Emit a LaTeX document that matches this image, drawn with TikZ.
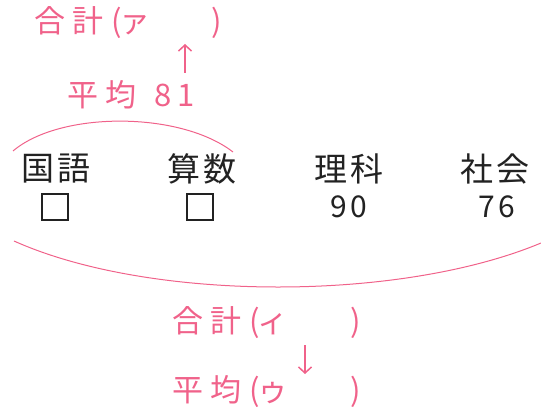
\documentclass[tikz,border=0pt]{standalone}
\usepackage{fontspec}
\newfontfamily\jpp{Noto Sans CJK JP}[LetterSpace=25]
\newfontfamily\jpb{Noto Sans CJK JP}[LetterSpace=8]
\newfontfamily\jpn{Noto Sans CJK JP}[LetterSpace=10]
\usetikzlibrary{arrows.meta}
\definecolor{pk}{HTML}{F0628A}
\definecolor{ink}{HTML}{222222}
\begin{document}
\begin{tikzpicture}[x=1pt,y=-1pt,
 pt/.style={text=pk, font=\jpp\fontsize{31}{34}\selectfont, inner sep=0pt, anchor=west},
 bk/.style={text=ink, font=\jpb\fontsize{33}{36}\selectfont, inner sep=0pt},
 num/.style={text=ink, font=\jpn\fontsize{30}{32}\selectfont, inner sep=0pt},
 brace/.style={draw=pk, line width=1pt},
 arr/.style={draw=pk, line width=1.5pt, -{Straight Barb[length=6pt,width=13pt]}},
 blank/.style={draw=ink, line width=1.5pt, minimum size=26pt, inner sep=0pt}]
\useasboundingbox (0,0) rectangle (541,414);
% top
\node[pt] (sumA) at (34,23) {合計(\hspace{-3pt}ァ};
\node[pt] (sumAr) at (211,23) {)};
\node[pt] (avg) at (67,95) {平均\hspace{18pt}8\hspace{5pt}1};
\coordinate (upS) at (185,73);
\coordinate (upE) at (185,44);
\draw[arr] (upS) -- (upE);
% subjects
\node[bk] (kokugo) at (56,169) {国語};
\node[bk] (sansu) at (202,169) {算数};
\node[bk] (rika) at (349,169) {理科};
\node[bk] (shakai) at (495,169) {社会};
\node[blank] (b1) at (55,207) {};
\node[blank] (b2) at (200,207) {};
\node[num] (n90) at (349,207) {90};
\node[num] (n76) at (497,207) {76};
% braces
\coordinate (tl) at (13,151);
\coordinate (tr) at (233,152);
\draw[brace] (tl) .. controls (60,111) and (180,111) .. (tr);
\coordinate (bl) at (14,241);
\coordinate (br) at (541,243);
\draw[brace] (bl) .. controls (150,302) and (400,302) .. (br);
% bottom
\node[pt] (sumI) at (172,323) {合計(\hspace{-3pt}ィ};
\node[pt] (sumIr) at (350,323) {)};
\coordinate (dnS) at (305,345);
\coordinate (dnE) at (305,374);
\draw[arr] (dnS) -- (dnE);
\node[pt] (avgU) at (172,392) {平均(\hspace{-3pt}ゥ};
\node[pt] (avgUr) at (350,392) {)};
\end{tikzpicture}
\end{document}
